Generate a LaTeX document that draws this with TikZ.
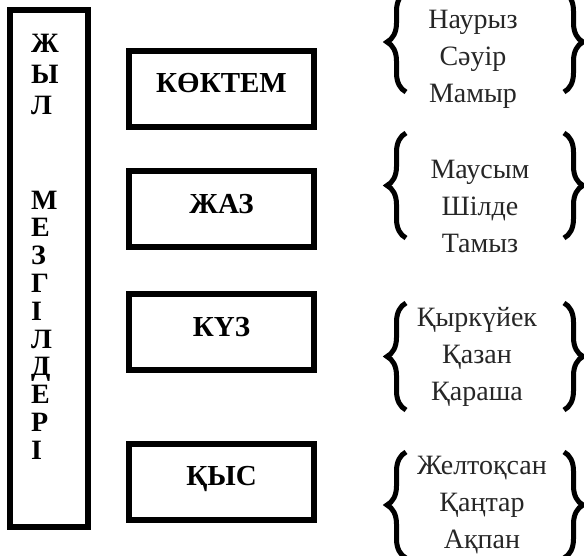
\documentclass[tikz,border=0pt]{standalone}
\usepackage{fontspec}
\setmainfont{Liberation Serif}
\usetikzlibrary{positioning, decorations.pathreplacing}

\tikzset{
    season/.style={draw=black, line width=6pt, minimum width=185pt, minimum height=76pt, inner sep=0pt, font=\fontsize{29}{32}\selectfont\bfseries, text height=20pt, text depth=12pt},
    months/.style={align=center, inner sep=0pt, text=black!85, font=\fontsize{28}{37}\selectfont},
    bracket/.style={decorate, decoration={brace, amplitude=19pt}, line width=5pt}
}

\begin{document}
\begin{tikzpicture}[x=1pt, y=-1pt]
\useasboundingbox (0,0) rectangle (584,555);

\node[draw=black, line width=6pt, minimum width=77.5pt, minimum height=517pt, inner sep=0pt] (year) at (48.75, 268.5) {};
\node[anchor=west, align=left, inner sep=0pt, font=\fontsize{28}{31}\selectfont\bfseries] (yearA) at (31, 74) {Ж\\Ы\\Л};
\node[anchor=west, align=left, inner sep=0pt, font=\fontsize{28}{27.8}\selectfont\bfseries] (yearB) at (31, 325) {М\\Е\\З\\Г\\І\\Л\\Д\\Е\\Р\\І};

\node[season] (spring) at (221.5, 88.7) {КӨКТЕМ};
\node[season] (summer) at (221.5, 209.2) {ЖАЗ};
\node[season] (autumn) at (221.5, 332.1) {КҮЗ};
\node[season] (winter) at (221.5, 481.9) {ҚЫС};

\node[months] (springM) at (473, 59) {Наурыз\\Сәуір\\Мамыр};
\node[months] (summerM) at (480, 206) {Маусым\\Шілде\\Тамыз};
\node[months] (autumnM) at (477, 357) {Қыркүйек\\Қазан\\Қараша};
\node[months] (winterM) at (482, 505) {Желтоқсан\\Қаңтар\\Ақпан};

\draw[bracket] (406,92) -- (406,-8);
\draw[bracket] (564,-8) -- (564,92);
\draw[bracket] (406,238) -- (406,133);
\draw[bracket] (564,133) -- (564,238);
\draw[bracket] (406,410) -- (406,303);
\draw[bracket] (564,303) -- (564,410);
\draw[bracket] (406,558) -- (406,452);
\draw[bracket] (564,452) -- (564,558);

\end{tikzpicture}
\end{document}
